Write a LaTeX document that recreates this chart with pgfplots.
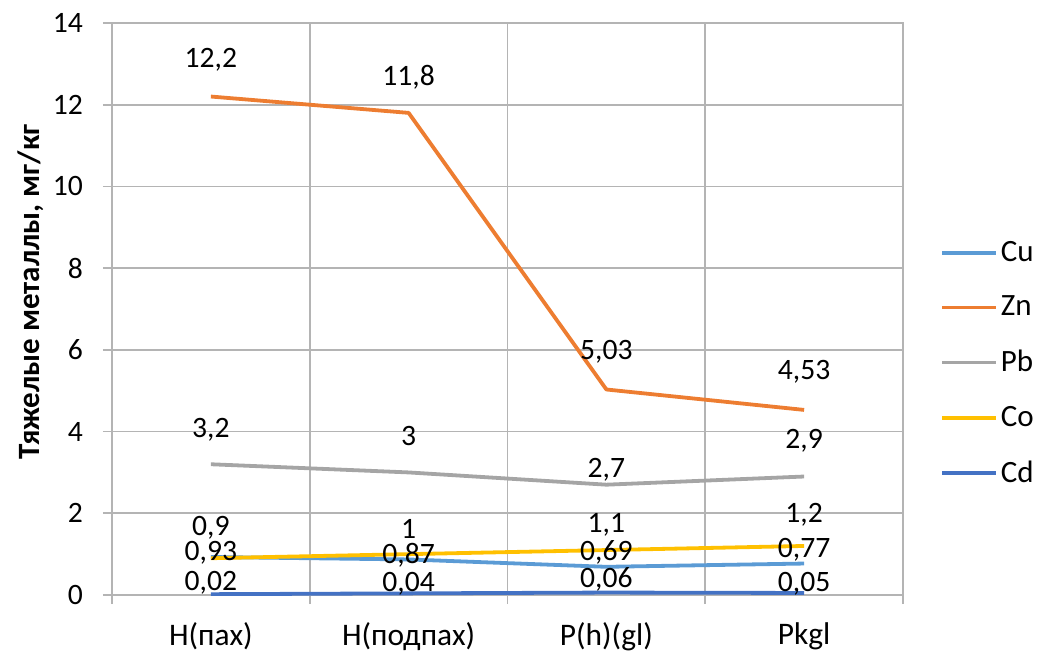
\documentclass[border=0pt]{standalone}
\usepackage{pgfplots}
\pgfplotsset{compat=1.18}
\usepackage{pgfplotstable}
\usepackage{fontspec}
\setmainfont{Carlito}
\newcommand\fs{\fontsize{14.8}{17}\selectfont}
\newcommand\fx{\fontsize{15.7}{18}\selectfont}

\definecolor{cCu}{HTML}{5B9BD5}
\definecolor{cZn}{HTML}{ED7D31}
\definecolor{cPb}{HTML}{A5A5A5}
\definecolor{cCo}{HTML}{FFC000}
\definecolor{cCd}{HTML}{4472C4}
\definecolor{grd}{HTML}{B4B4B4}

% x = category index, y = value, lab = data label, dy = label offset (pt)
\pgfplotstableread{
x y lab dy
0 0.93 0,93 2
1 0.87 0,87 2.25
2 0.69 0,69 7
3 0.77 0,77 7
}\cu
\pgfplotstableread{
x y lab dy
0 12.2 12,2 18.25
1 11.8 11,8 18
2 5.03 5,03 18.75
3 4.53 4,53 19
}\zn
\pgfplotstableread{
x y lab dy
0 3.2 3,2 17
1 3 3 18
2 2.7 2,7 7.5
3 2.9 2,9 18
}\pb
\pgfplotstableread{
x y lab dy
0 0.9 0,9 15.3
1 1 1 12.5
2 1.1 1,1 12.5
3 1.2 1,2 15.5
}\co
\pgfplotstableread{
x y lab dy
0 0.02 0,02 5.5
1 0.04 0,04 5
2 0.06 0,06 6.75
3 0.05 0,05 4.5
}\cd

\begin{document}
\begin{tikzpicture}
\begin{axis}[
    name=ax,
    scale only axis,
    width=395.5pt, height=286pt,
    xmin=-0.5, xmax=3.5,
    ymin=0, ymax=14,
    xtick={-0.5,0.5,1.5,2.5,3.5},
    xticklabels={,,,,},
    extra x ticks={0,1,2,3},
    extra x tick labels={Н(пах),Н(подпах),Р(h)(gl),Pkgl},
    extra x tick style={grid=none, major tick length=0pt},
    ytick={0,2,4,6,8,10,12,14},
    yticklabels={0,2,4,6,8,10,12,14},
    grid=major,
    major grid style={draw=grd, line width=0.9pt},
    axis line style={draw=grd, line width=0.9pt},
    tick style={draw=grd, line width=0.9pt},
    tick align=outside, tick pos=left,
    major tick length=4.5pt,
    xticklabel style={font=\fx, yshift=-12.8pt, inner sep=1pt},
    yticklabel style={font=\fs, xshift=-6.5pt},
    ylabel={Тяжелые металлы, мг/кг},
    ylabel style={font=\fontsize{15.5}{18}\selectfont\bfseries},
    every axis y label/.append style={at={(ticklabel cs:0.53)}},
    ylabel shift=-2.1pt,
    legend style={draw=none, fill=none, font=\fontsize{15.5}{18}\selectfont,
        inner sep=0pt, nodes={inner sep=1.25pt},
        at={(1.047,0.405)}, anchor=west, row sep=13.2pt},
    legend cell align=left,
    legend image code/.code={\draw[#1] (0pt,0pt) -- (27pt,0pt);},
    every axis plot/.append style={line width=1.9pt, mark=none, line join=round},
    point meta=explicit symbolic,
    nodes near coords,
    visualization depends on={\thisrow{dy}\as\dy},
    every node near coord/.append style={font=\fs, text=black, anchor=center, yshift=\dy*1pt},
]
\addplot[cCu] table[x=x, y=y, meta=lab] {\cu};
\addlegendentry{Cu}
\addplot[cZn] table[x=x, y=y, meta=lab] {\zn};
\addlegendentry{Zn}
\addplot[cPb] table[x=x, y=y, meta=lab] {\pb};
\addlegendentry{Pb}
\addplot[cCo] table[x=x, y=y, meta=lab] {\co};
\addlegendentry{Co}
\addplot[cCd] table[x=x, y=y, meta=lab] {\cd};
\addlegendentry{Cd}
\end{axis}
% page frame as in the reference
\pgfresetboundingbox
\path (ax.south west) ++(-56pt,-29pt) rectangle ([shift={(67pt,11.5pt)}]ax.north east);
\end{tikzpicture}
\end{document}
